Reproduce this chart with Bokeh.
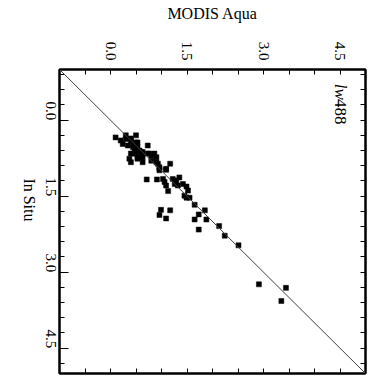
import math
from bokeh.plotting import figure
from bokeh.models import Range1d, LinearAxis, FixedTicker, Slope, Label
from bokeh.embed import file_html
from bokeh.resources import INLINE

# MODIS Aqua (horizontal) vs In Situ (vertical, increasing downward)
modis = [0.10, 0.20, 0.30, 0.40, 0.50, 0.24, 0.34, 0.44, 0.53, 0.47, 0.57, 0.63,
         0.50, 0.40, 0.37, 0.40, 0.53, 0.60, 0.63, 0.73, 0.73, 0.80, 0.86, 0.90,
         0.80, 0.93, 0.96, 0.96, 1.09, 1.17, 0.71, 0.91, 1.03, 1.06, 1.09, 1.13,
         1.22, 1.29, 1.35, 1.32, 1.42, 1.49, 1.52, 1.45, 1.49, 0.99, 0.96, 1.17,
         1.09, 1.65, 1.85, 1.73, 1.65, 1.88, 1.73, 2.13, 2.24, 2.51, 2.91, 3.44,
         3.35,
         0.30, 0.40, 0.50, 0.44, 0.53, 0.60, 0.47, 0.53, 0.63, 0.76, 0.90, 0.96,
         1.09, 1.26, 1.55]
insitu = [0.34, 0.40, 0.30, 0.36, 0.30, 0.47, 0.50, 0.47, 0.44, 0.57, 0.60, 0.63,
          0.66, 0.66, 0.76, 0.83, 0.76, 0.73, 0.83, 0.50, 0.66, 0.70, 0.66, 0.73,
          0.80, 0.86, 0.96, 0.99, 0.96, 0.86, 1.17, 1.17, 1.16, 1.22, 1.29, 1.40,
          1.16, 1.19, 1.13, 1.29, 1.26, 1.31, 1.39, 1.49, 1.53, 1.77, 1.87, 1.78,
          1.94, 1.67, 1.78, 1.86, 1.96, 1.96, 2.16, 2.09, 2.28, 2.47, 3.24, 3.31,
          3.57,
          0.37, 0.40, 0.44, 0.53, 0.53, 0.63, 0.66, 0.73, 0.73, 0.66, 0.83, 0.93,
          0.98, 1.26, 1.53]

major_ticks = [0.0, 1.5, 3.0, 4.5]
major_labels = {0.0: "0.0", 1.5: "1.5", 3.0: "3.0", 4.5: "4.5"}
x_minor = [-1.0, -0.5, 0.5, 1.0, 2.0, 2.5, 3.5, 4.0, 5.0]
y_minor = [-0.9, -0.6, -0.3, 0.3, 0.6, 0.9, 1.2, 1.8, 2.1, 2.4, 2.7,
           3.3, 3.6, 3.9, 4.2, 4.8]

FONT = "Liberation Serif"

p = figure(width=370, height=377, output_backend="svg", toolbar_location=None,
           x_range=Range1d(-1, 5), y_range=Range1d(5, -1),
           x_axis_location="above", y_axis_location="left",
           min_border_left=59, min_border_right=5, min_border_top=69,
           min_border_bottom=4)
p.grid.visible = False
p.outline_line_color = "black"
p.outline_line_width = 2
p.background_fill_color = "white"
p.border_fill_color = "white"

# unlabeled tick-only axes on right and bottom
p.add_layout(LinearAxis(ticker=FixedTicker(ticks=[], minor_ticks=sorted(major_ticks + y_minor))), "right")
p.add_layout(LinearAxis(ticker=FixedTicker(ticks=[], minor_ticks=sorted(major_ticks + x_minor))), "below")

for ax in p.axis:
    ax.axis_line_width = 2
    ax.axis_line_color = "black"
    ax.major_tick_out = 0
    ax.minor_tick_in = 5
    ax.minor_tick_out = 0
    ax.major_tick_line_width = 1
    ax.minor_tick_line_width = 1
    ax.minor_tick_line_color = "black"
    ax.major_tick_line_color = "black"
    ax.major_label_text_font = FONT
    ax.major_label_text_font_size = "15px"
    ax.major_label_text_color = "black"
    ax.axis_label_text_font = FONT
    ax.axis_label_text_font_style = "normal"
    ax.axis_label_text_font_size = "16px"
    ax.axis_label_text_color = "black"

top = p.above[0]
left = p.left[0]
top.ticker = FixedTicker(ticks=major_ticks, minor_ticks=x_minor)
left.ticker = FixedTicker(ticks=major_ticks, minor_ticks=y_minor)
top.major_tick_in = 5
left.major_tick_in = 9
for ax in (top, left):
    ax.major_label_overrides = major_labels
    ax.major_label_orientation = -math.pi / 2
top.major_label_standoff = 9
top.axis_label = "MODIS Aqua"
top.axis_label_standoff = 17
left.major_label_standoff = 9
left.axis_label = "In Situ"
left.axis_label_standoff = 8
try:
    left.axis_label_orientation = -math.pi / 2
except Exception:
    pass

for ax in (p.right[0], p.below[0]):
    ax.major_label_standoff = 0
    ax.axis_label = None

p.add_layout(Slope(gradient=1, y_intercept=0, line_color="#404040", line_width=1))

p.scatter(modis, insitu, marker="square", size=5, fill_color="black",
          line_color="black", line_width=0.5)

p.add_layout(Label(x=4.5, y=-0.72, text="lw", angle=-math.pi / 2,
                   text_font=FONT, text_font_style="italic", text_font_size="17px",
                   text_align="left", text_baseline="middle", text_color="black"))
p.add_layout(Label(x=4.5, y=-0.42, text="488", angle=-math.pi / 2,
                   text_font=FONT, text_font_size="17px",
                   text_align="left", text_baseline="middle", text_color="black"))

open("out.html", "w").write(file_html(p, INLINE))
